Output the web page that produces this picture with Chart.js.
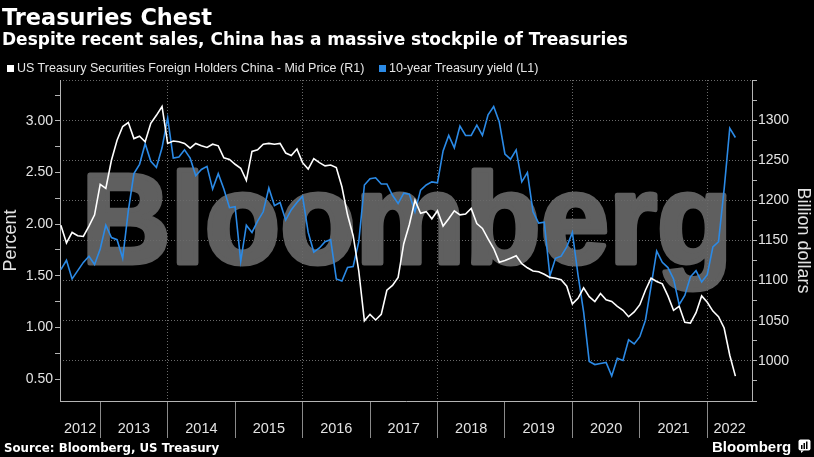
<!DOCTYPE html>
<html>
<head>
<meta charset="utf-8">
<script src="https://cdn.jsdelivr.net/npm/chart.js@4.4.1/dist/chart.umd.min.js"></script>
<style>
  html, body { margin: 0; padding: 0; background: #000; }
  #wrap { position: relative; width: 814px; height: 457px; overflow: hidden; background: #000; }
  #chart { position: absolute; left: 0; top: 0; }
  .t { position: absolute; white-space: nowrap; line-height: 1; color: #fff; }
  .box { position: absolute; width: 7px; height: 7px; }
</style>
</head>
<body>
<div id="wrap">
  <canvas id="chart" width="814" height="457"></canvas>
  <div class="t" style="left:2px;top:6px;font:bold 22.4px/1 'DejaVu Sans',sans-serif;">Treasuries Chest</div>
  <div class="t" style="left:2px;top:31px;font:bold 17px/1 'DejaVu Sans',sans-serif;">Despite recent sales, China has a massive stockpile of Treasuries</div>
  <div class="box" style="left:7px;top:65px;background:#ffffff;"></div>
  <div class="t" style="left:17px;top:62.2px;font:12.5px/1 'Liberation Sans',sans-serif;color:#e6e6e6;">US Treasury Securities Foreign Holders China - Mid Price (R1)</div>
  <div class="box" style="left:379px;top:65px;background:#2b8ae6;"></div>
  <div class="t" style="left:389px;top:62.2px;font:12.5px/1 'Liberation Sans',sans-serif;color:#e6e6e6;">10-year Treasury yield (L1)</div>
  <div class="t" style="left:4px;top:442.5px;font:bold 11.8px/1 'DejaVu Sans',sans-serif;">Source: Bloomberg, US Treasury</div>
  <div class="t" style="left:712px;top:438.8px;font:bold 15px/1 'Liberation Sans',sans-serif;">Bloomberg</div>
  <svg style="position:absolute;left:798px;top:439px;" width="13" height="14" viewBox="0 0 13 14">
    <rect x="0.5" y="0.5" width="12" height="11" rx="2" fill="#fff"/>
    <path d="M3 11.5 L3 14 L6 11.5 Z" fill="#fff"/>
    <rect x="3" y="6" width="1.5" height="4" fill="#000"/>
    <rect x="5.5" y="4" width="1.5" height="6" fill="#000"/>
    <rect x="8" y="2.5" width="1.5" height="7.5" fill="#000"/>
  </svg>
</div>
<script>
// ---- Data (monthly, month-end, May 2012 - May 2022) ----
const firstYear = 2012;
const firstMonth = 5; // May

// China holdings of US Treasuries, billion dollars (R1)
const holdings = [
  // 2012 May-Dec
  1169, 1147, 1160, 1156, 1155, 1168, 1182, 1220,
  // 2013
  1215, 1250, 1275, 1292, 1297, 1277, 1280, 1273, 1296, 1306, 1317, 1271,
  // 2014
  1274, 1273, 1271, 1265, 1271, 1268, 1266, 1270, 1268, 1253, 1251, 1245,
  // 2015
  1240, 1225, 1261, 1263, 1270, 1271, 1270, 1271, 1259, 1256, 1264, 1247,
  // 2016
  1239, 1252, 1247, 1243, 1244, 1241, 1217, 1182, 1156, 1112, 1050, 1058,
  // 2017
  1051, 1058, 1088, 1094, 1104, 1146, 1170, 1200, 1184, 1186, 1177, 1187,
  // 2018
  1168, 1177, 1187, 1182, 1183, 1190, 1171, 1165, 1152, 1140, 1123, 1125,
  // 2019
  1128, 1131, 1121, 1116, 1112, 1111, 1108, 1104, 1103, 1101, 1093, 1071,
  // 2020
  1078, 1091, 1080, 1074, 1084, 1076, 1074, 1068, 1063, 1055, 1061, 1070,
  // 2021
  1088, 1103, 1099, 1096, 1081, 1063, 1068, 1048, 1047, 1060, 1081, 1073,
  // 2022 Jan-May
  1062, 1055, 1041, 1007, 981
];

// 10-year Treasury yield, percent (L1)
const yields = [
  // 2012 May-Dec
  1.56, 1.65, 1.47, 1.55, 1.63, 1.69, 1.61, 1.76,
  // 2013
  1.99, 1.87, 1.85, 1.67, 2.13, 2.49, 2.58, 2.78, 2.61, 2.55, 2.74, 3.03,
  // 2014
  2.64, 2.65, 2.72, 2.64, 2.47, 2.53, 2.56, 2.34, 2.49, 2.34, 2.16, 2.17,
  // 2015
  1.64, 1.99, 1.92, 2.03, 2.12, 2.35, 2.18, 2.21, 2.04, 2.14, 2.21, 2.27,
  // 2016
  1.92, 1.73, 1.77, 1.83, 1.85, 1.47, 1.45, 1.58, 1.59, 1.83, 2.38, 2.44,
  // 2017
  2.45, 2.39, 2.39, 2.28, 2.20, 2.30, 2.29, 2.12, 2.33, 2.38, 2.41, 2.40,
  // 2018
  2.71, 2.86, 2.74, 2.95, 2.86, 2.86, 2.96, 2.86, 3.06, 3.14, 2.99, 2.68,
  // 2019
  2.63, 2.72, 2.41, 2.50, 2.12, 2.01, 2.02, 1.50, 1.67, 1.69, 1.78, 1.92,
  // 2020
  1.51, 1.15, 0.67, 0.64, 0.65, 0.66, 0.53, 0.70, 0.68, 0.88, 0.84, 0.91,
  // 2021
  1.07, 1.40, 1.74, 1.63, 1.58, 1.47, 1.22, 1.31, 1.49, 1.55, 1.44, 1.51,
  // 2022 Jan-May
  1.78, 1.83, 2.34, 2.93, 2.84
];

const yearLabels = ['2012','2013','2014','2015','2016','2017','2018','2019','2020','2021','2022'];
const leftTicks = [0.50, 0.75, 1.00, 1.25, 1.50, 1.75, 2.00, 2.25, 2.50, 2.75, 3.00, 3.25];
const rightTicks = [950, 975, 1000, 1025, 1050, 1075, 1100, 1125, 1150, 1175, 1200, 1225, 1250, 1275, 1300, 1325, 1350];

// ---- Axis ranges ----
const X_MIN = 2012.404, X_MAX = 2022.663;
const L_MIN = 0.287, L_MAX = 3.397;
const R_MIN = 950, R_MAX = 1350;

// month-end positions as decimal years
const xPos = holdings.map((_, i) => firstYear + (firstMonth + i) / 12);

// year separators and label positions (middle of visible part of each year)
const yearBounds = yearLabels.slice(1).map(Number);
const yearMid = yearLabels.map(y => {
  const a = Math.max(Number(y), X_MIN), b = Math.min(Number(y) + 1, X_MAX);
  return (a + b) / 2;
});
const xTicks = [...yearBounds, ...yearMid].sort((a, b) => a - b);

const GRID = '#6a6a6a';
const AXIS = '#b4b4b4';
const SEP = '#8a8a8a';
const TXT = '#e2e2e2';
const BLUE = '#2b8ae6';

const isBound = v => yearBounds.some(b => Math.abs(b - v) < 1e-6);

const watermark = {
  id: 'watermark',
  beforeDraw(chart) {
    const ctx = chart.ctx;
    const t = 'Bloomberg';
    const sw = 5;
    ctx.save();
    ctx.font = 'bold 128.5px "Liberation Sans", Arial, sans-serif';
    ctx.textBaseline = 'alphabetic';
    const m = ctx.measureText(t);
    const inkW = m.actualBoundingBoxLeft + m.actualBoundingBoxRight;
    const sx = (640 - sw) / inkW;
    ctx.translate(86.7 + sw / 2, 265 - sw / 2);
    ctx.scale(sx, 1);
    ctx.fillStyle = '#5f5f5f';
    ctx.strokeStyle = '#5f5f5f';
    ctx.lineWidth = sw;
    ctx.lineJoin = 'round';
    ctx.fillText(t, m.actualBoundingBoxLeft, 0);
    ctx.strokeText(t, m.actualBoundingBoxLeft, 0);
    ctx.restore();
  }
};

new Chart(document.getElementById('chart'), {
  type: 'line',
  data: {
    datasets: [
      {
        label: 'US Treasury Securities Foreign Holders China - Mid Price (R1)',
        data: holdings.map((v, i) => ({ x: xPos[i], y: v })),
        yAxisID: 'yR',
        borderColor: '#ffffff',
        borderWidth: 1.6,
        pointRadius: 0,
        tension: 0
      },
      {
        label: '10-year Treasury yield (L1)',
        data: yields.map((v, i) => ({ x: xPos[i], y: v })),
        yAxisID: 'yL',
        borderColor: BLUE,
        borderWidth: 1.6,
        pointRadius: 0,
        tension: 0
      }
    ]
  },
  options: {
    responsive: false,
    animation: false,
    devicePixelRatio: 1,
    layout: { padding: { top: 80, left: 0, right: 0, bottom: 0 } },
    plugins: { legend: { display: false }, tooltip: { enabled: false }, title: { display: false } },
    scales: {
      x: {
        type: 'linear',
        position: 'bottom',
        min: X_MIN, max: X_MAX,
        bounds: 'data',
        afterBuildTicks: s => { s.ticks = xTicks.map(v => ({ value: v })); },
        afterFit: s => { s.height = 56; },
        grid: {
          drawOnChartArea: true,
          color: c => (c.tick && isBound(c.tick.value) && Math.round(c.tick.value) % 2 === 0) ? GRID : 'rgba(0,0,0,0)',
          tickColor: c => (c.tick && isBound(c.tick.value)) ? SEP : 'rgba(0,0,0,0)',
          tickLength: 37,
          lineWidth: 1
        },
        border: { display: true, color: AXIS, width: 1, dash: [1, 2] },
        ticks: {
          autoSkip: false, maxRotation: 0, minRotation: 0,
          padding: -17.7,
          color: TXT,
          font: { family: 'Liberation Sans', size: 14.5 },
          callback: v => {
            const k = yearMid.findIndex(m => Math.abs(m - v) < 1e-6);
            return k >= 0 ? yearLabels[k] : '';
          }
        }
      },
      yL: {
        type: 'linear',
        position: 'left',
        min: L_MIN, max: L_MAX,
        bounds: 'data',
        afterBuildTicks: s => { s.ticks = leftTicks.map(v => ({ value: v })); },
        afterFit: s => { s.width = 60; },
        grid: { drawOnChartArea: false, tickColor: AXIS, tickLength: 5 },
        border: { display: true, color: AXIS, width: 1 },
        ticks: {
          padding: 2,
          color: TXT,
          font: { family: 'Liberation Sans', size: 14 },
          callback: v => (Math.abs(v * 2 - Math.round(v * 2)) < 1e-6 && v <= 3.0) ? v.toFixed(2) : ''
        },
        title: { display: true, text: 'Percent', color: TXT, padding: 0, font: { family: 'Liberation Sans', size: 18 } }
      },
      yR: {
        type: 'linear',
        position: 'right',
        min: R_MIN, max: R_MAX,
        bounds: 'data',
        afterBuildTicks: s => { s.ticks = rightTicks.map(v => ({ value: v })); },
        afterFit: s => { s.width = 62; },
        grid: {
          drawOnChartArea: true,
          color: c => (c.tick && c.tick.value % 50 === 0) ? GRID : 'rgba(0,0,0,0)',
          tickColor: AXIS,
          tickLength: 5
        },
        border: { display: true, color: AXIS, width: 1, dash: [1, 2] },
        ticks: {
          padding: 1,
          color: TXT,
          font: { family: 'Liberation Sans', size: 14 },
          callback: v => (v % 50 === 0 && v >= 1000 && v <= 1300) ? String(v) : ''
        },
        title: { display: true, text: 'Billion dollars', color: TXT, padding: 0, font: { family: 'Liberation Sans', size: 18 } }
      }
    }
  },
  plugins: [watermark]
});
</script>
</body>
</html>
